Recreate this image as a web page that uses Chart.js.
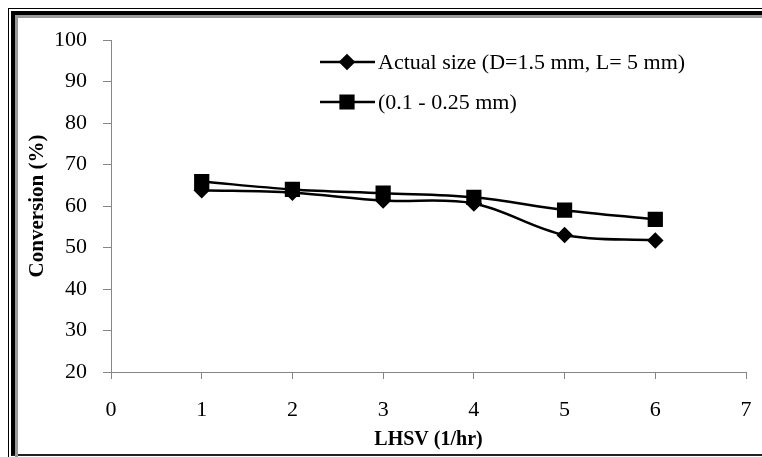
<!DOCTYPE html>
<html>
<head>
<meta charset="utf-8">
<script src="https://cdn.jsdelivr.net/npm/chart.js@4.4.0/dist/chart.umd.min.js"></script>
<style>
  body { margin: 0; background: #fff; overflow: hidden; }
  #wrap { position: relative; width: 762px; height: 457px; overflow: hidden; }
  .f1 { position: absolute; left: 8px; top: 8px; width: 1000px; height: 1000px; border-left: 1px solid #000; border-top: 1px solid #000; }
  .f2 { position: absolute; left: 11px; top: 11px; width: 1000px; height: 439px; border-left: 4px solid #000; border-top: 4px solid #000; border-bottom: 2px solid #222; }
  .f3 { position: absolute; left: 15px; top: 15px; width: 1000px; height: 1000px; border-left: 3px solid #9a9a9a; border-top: 3px solid #9a9a9a; }
  canvas { position: absolute; left: 0; top: 0; }
</style>
</head>
<body>
<div id="wrap">
  <div class="f1"></div>
  <div class="f2"></div>
  <div class="f3"></div>
  <canvas id="chart" width="762" height="457"></canvas>
</div>
<script>
// data
const lhsv = [1, 2, 3, 4, 5, 6];
const actualSize = [63.8, 63.2, 61.3, 60.6, 53.0, 51.7];
const smallSize = [65.9, 64.0, 63.1, 62.1, 59.0, 56.8];
const seriesNames = ["Actual size (D=1.5 mm, L= 5 mm)", "(0.1 - 0.25 mm)"];
const xTicks = [0, 1, 2, 3, 4, 5, 6, 7];
const yTicks = [20, 30, 40, 50, 60, 70, 80, 90, 100];

const serif = "'Liberation Serif', 'Times New Roman', serif";
const axisGray = "#868686";

function points(ys) {
    return lhsv.map((x, i) => ({ x: x, y: ys[i] }));
}

// legend drawn inside the plot, like the original
const innerLegend = {
    id: "innerLegend",
    afterDatasetsDraw(chart) {
        const ctx = chart.ctx;
        const rows = [62, 102];
        ctx.save();
        chart.data.datasets.forEach((ds, i) => {
            const y = rows[i];
            ctx.strokeStyle = "#000";
            ctx.lineWidth = 2.5;
            ctx.beginPath();
            ctx.moveTo(320, y);
            ctx.lineTo(375, y);
            ctx.stroke();
            Chart.helpers.drawPoint(ctx, {
                pointStyle: ds.pointStyle,
                radius: ds.pointRadius,
                borderWidth: 1
            }, 347, y);
            ctx.fillStyle = "#000";
            ctx.fill();
            ctx.font = "22px " + serif;
            ctx.textBaseline = "middle";
            ctx.textAlign = "left";
            ctx.fillText(ds.label, 378, y + 1);
        });
        ctx.restore();
    }
};

new Chart(document.getElementById("chart"), {
    type: "scatter",
    data: {
        datasets: [
            {
                label: seriesNames[0],
                data: points(actualSize),
                showLine: true,
                tension: 0.35,
                borderColor: "#000",
                backgroundColor: "#000",
                borderWidth: 2.5,
                pointStyle: "rectRot",
                pointRadius: 6.5,
                pointHoverRadius: 6.5
            },
            {
                label: seriesNames[1],
                data: points(smallSize),
                showLine: true,
                tension: 0.35,
                borderColor: "#000",
                backgroundColor: "#000",
                borderWidth: 2.5,
                pointStyle: "rect",
                pointRadius: 9,
                pointHoverRadius: 9
            }
        ]
    },
    options: {
        responsive: false,
        animation: false,
        events: [],
        layout: { padding: { left: 20, top: 40, right: 16, bottom: 0 } },
        plugins: {
            legend: { display: false },
            tooltip: { enabled: false }
        },
        scales: {
            x: {
                type: "linear",
                min: 0,
                max: 7,
                afterFit: s => { s.height = 85; s.paddingRight = 6; s.paddingLeft = 6; },
                afterBuildTicks: s => { s.ticks = xTicks.map(v => ({ value: v })); },
                ticks: { color: "#000", padding: 18, font: { family: serif, size: 22 } },
                grid: { drawOnChartArea: false, drawTicks: true, tickLength: 7, color: axisGray },
                border: { color: axisGray, width: 1 },
                title: {
                    display: true,
                    text: "LHSV (1/hr)",
                    color: "#000",
                    padding: { top: 0, bottom: 5 },
                    font: { family: serif, size: 20, weight: "bold" }
                }
            },
            y: {
                min: 20,
                max: 100,
                afterFit: s => { s.width = 91; },
                afterBuildTicks: s => { s.ticks = yTicks.map(v => ({ value: v })); },
                ticks: { color: "#000", padding: 16, font: { family: serif, size: 22 } },
                grid: { drawOnChartArea: false, drawTicks: true, tickLength: 8, color: axisGray },
                border: { color: axisGray, width: 1 },
                title: {
                    display: true,
                    text: "Conversion (%)",
                    color: "#000",
                    padding: { top: 5, bottom: 0 },
                    font: { family: serif, size: 21, weight: "bold" }
                }
            }
        }
    },
    plugins: [innerLegend]
});
</script>
</body>
</html>
